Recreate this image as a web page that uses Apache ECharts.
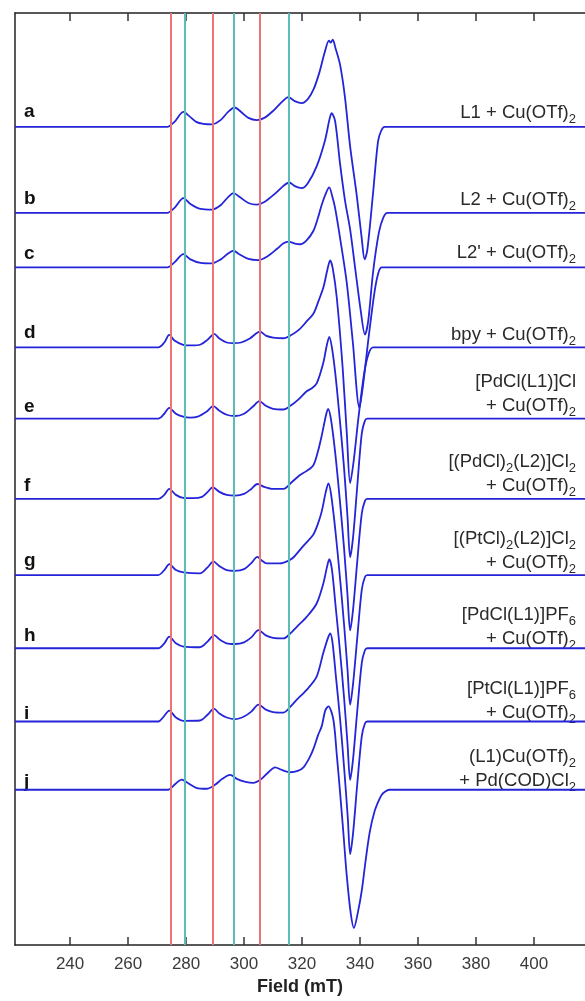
<!DOCTYPE html>
<html>
<head>
<meta charset="utf-8">
<script src="https://cdn.jsdelivr.net/npm/echarts@6/dist/echarts.min.js"></script>
<style>
  html, body { margin: 0; padding: 0; background: #fff; }
  #chart { width: 585px; height: 1001px; }
</style>
</head>
<body>
<div id="chart"></div>
<script>
// field axis (mT)
const fieldMin = 221;
const fieldMax = 417.6;
const fieldTicks = [240, 260, 280, 300, 320, 340, 360, 380, 400];

// hyperfine guide lines (mT)
const redLines = [274.6, 289.3, 305.4];
const tealLines = [279.5, 296.4, 315.4];

// trace letters, baselines (offset units) and right-hand labels
const traceLetters = ["a", "b", "c", "d", "e", "f", "g", "h", "i", "j"];
const traceBaselines = [827, 740, 685, 604, 532, 451, 374, 300, 226, 157];
const traceNames = [
  "L1 + Cu(OTf){s|2}",
  "L2 + Cu(OTf){s|2}",
  "L2' + Cu(OTf){s|2}",
  "bpy + Cu(OTf){s|2}",
  "[PdCl(L1)]Cl\n+ Cu(OTf){s|2}",
  "[(PdCl){s|2}(L2)]Cl{s|2}\n+ Cu(OTf){s|2}",
  "[(PtCl){s|2}(L2)]Cl{s|2}\n+ Cu(OTf){s|2}",
  "[PdCl(L1)]PF{s|6}\n+ Cu(OTf){s|2}",
  "[PtCl(L1)]PF{s|6}\n+ Cu(OTf){s|2}",
  "(L1)Cu(OTf){s|2}\n+ Pd(COD)Cl{s|2}",
];

// spectra: [field mT, signal relative to baseline]
const traceA = [[221,0],[250,0],[273.5,0],[276,5],[279.1,15],[281,11],[283.5,5],[286,3],[289,2.5],[292,7],[294.5,15],[296.7,19.5],[299,15],[301.5,9],[304.4,6.8],[307,9],[310,16],[313,25],[315.3,30],[317.5,26],[319.9,24],[322,28],[324,38],[326,55],[327.8,75],[329.3,87],[329.9,85],[330.6,88],[331.5,80],[333.1,63],[334.8,30],[336.6,-20],[338.9,-70],[340.6,-113],[341.6,-134],[342.5,-125],[344.5,-67],[346.2,-15],[347.3,-4],[348.5,0],[360,0],[417.6,0]];
const traceB = [[221,0],[273.5,0],[276,5],[279.1,15],[281.5,9],[285,4],[288.9,3.3],[292,8],[294.5,16],[296.4,20],[298.5,16],[301.5,10],[304.3,8.3],[307,11],[310.5,19],[313.5,27],[315.6,30.7],[317.5,27],[319.9,25],[322,30],[325,46.7],[327.9,73],[329.5,95],[330.2,100.7],[331.4,93],[333.1,50],[334.8,13],[336.6,-17],[338.5,-60],[340.3,-100],[341.7,-123],[342.8,-110],[344.5,-60],[346.5,-20],[348,-5],[349.5,0],[417.6,0]];
const traceC = [[221,0],[273.5,0],[276,5],[279.1,13.3],[281.5,8],[285,4.5],[288.9,4],[292,8],[294.5,14],[296.3,16.7],[298.5,13],[301.5,8.5],[304.9,7.3],[308,11],[311.5,19],[313.5,24],[315.3,26],[317.5,24],[319.3,23.3],[321.5,27],[323.9,36.7],[325.5,50],[326.8,63.3],[328.4,76],[329.4,80.7],[330.4,72],[331.4,60],[333.1,30],[335.4,-15],[337.5,-75],[339.8,-142],[341,-120],[343,-70],[345,-25],[346.3,-6],[347.5,0],[417.6,0]];
const traceD = [[221,0],[270.4,0],[272.5,5],[274.2,12.7],[276,7],[279,2.7],[282,2],[285,3],[287.5,8],[289.7,13.7],[291.5,9],[294,5],[296.3,4.3],[299,5],[302,9],[305.5,16],[307.5,12],[310,10],[313.6,9.3],[316,12],[319,18],[321.5,26],[323.9,34],[325.7,47],[327.4,61],[328.7,78],[329.7,88],[330.6,80],[332,50],[334,-20],[335.5,-90],[336.6,-137],[337.8,-115],[339.5,-70],[341.5,-25],[343,-6],[344.5,0],[417.6,0]];
const traceE = [[221,0],[270.4,0],[272.5,5],[274.2,11],[276.5,5],[279,2],[281.4,1],[284,2],[287,7],[289.4,12.7],[291.5,8],[294,4],[296.9,2.7],[300,5],[303,12],[305.3,17.7],[307.5,13],[310,10],[313.6,9.3],[316,13],[318.7,19.3],[321.6,27.7],[323.5,31],[325.1,36],[327.3,56],[328.6,75],[329.4,82.7],[330.3,72],[331.5,45],[333,0],[334.5,-50],[335.7,-100],[336.6,-140],[337.6,-120],[339,-70],[340.6,-15],[341.7,-2],[342.5,0],[417.6,0]];
const traceF = [[221,0],[270.4,0],[272.5,4],[274.2,10],[276.5,4],[279,1],[282.5,0.7],[285.5,2],[287.5,7],[289.2,11.7],[291.5,7],[294,4],[296.9,3.3],[300,5],[302.5,10],[304.6,15],[307,12],[310,10],[313.6,10],[316.5,17],[319.3,24],[321.5,28],[323.9,34],[325.5,48],[326.8,64],[328.3,85],[329,91],[330,80],[331.5,45],[333,0],[334.5,-50],[335.7,-98],[336.6,-133],[337.6,-112],[339,-65],[340.6,-15],[341.7,-2],[342.5,0],[417.6,0]];
const traceG = [[221,0],[270.4,0],[272.5,5],[274.2,11],[276.5,5],[279.1,2.7],[284.8,1.7],[287.5,8],[289.4,13.7],[291.5,9],[294,5],[296.9,4.3],[300,6],[302.5,12],[304.6,18.3],[306,15],[307.8,11.7],[312.4,11.7],[315,14],[317,17.7],[320.4,29.3],[323.9,41],[325.5,52],[326.8,64.3],[328.2,84],[329.1,92.7],[330,82],[331.5,45],[333,0],[334.5,-50],[335.7,-96],[336.6,-131],[337.6,-110],[339,-65],[340.6,-15],[341.7,-2],[342.5,0],[417.6,0]];
const traceH = [[221,0],[270.4,0],[272.5,5],[274.2,11.7],[276.5,5],[279.1,1.7],[284.8,1],[287.5,7],[289.7,13.3],[291.5,9],[294,5],[296.9,4.3],[300,6],[302.5,11],[305,18.3],[307.5,13],[310,10.5],[313.6,10],[316,15],[318.2,21.7],[321.6,31.7],[325,45],[327.3,65],[328.6,82],[329.4,90],[330.3,80],[331.5,45],[333,0],[334.5,-50],[335.7,-97],[336.6,-133],[337.6,-112],[339,-65],[340.6,-15],[341.7,-2],[342.5,0],[417.6,0]];
const traceI = [[221,0],[270.4,0],[272.3,5],[274.2,11],[276.5,4],[279.1,0.7],[284.8,1],[287.5,7],[289.6,13],[291.5,8],[294,4],[296.9,2.3],[300,5],[302.5,10],[305,17],[307.5,12],[310,9.5],[313.6,9],[316,15],[318.2,22],[321.6,32],[325,45],[327.3,69],[328.9,84],[329.7,89],[330.5,80],[331.7,45],[333.2,0],[334.6,-50],[335.8,-98],[336.6,-134],[337.6,-113],[339,-65],[340.6,-15],[341.7,-2],[342.5,0],[417.6,0]];
const traceJ = [[221,0],[273.9,0],[276,5],[278.5,10.3],[280.5,7],[283.5,2],[287.1,1],[290,5],[292.5,11],[295.2,15],[297.5,11],[300.5,8],[303.2,7],[306,11],[308.5,18],[310.7,22.7],[313,20],[315.9,17.7],[318.5,19],[320.5,22.7],[322.5,32],[323.9,41],[325.5,55],[326.8,64.3],[328,80],[329.1,84.3],[330.8,71],[332,35],[333.1,-2],[334.3,-45],[335.4,-86],[336.8,-125],[337.9,-139.7],[339.2,-125],[340.6,-102],[342,-70],[343.4,-42],[345,-22],[346.3,-12],[347.5,-5],[348.6,-2],[350,0],[417.6,0]];

const traces = [traceA, traceB, traceC, traceD, traceE, traceF, traceG, traceH, traceI, traceJ];

// label placement (px), one per trace
const letterY = [113, 200, 255, 334, 408, 487, 562, 637, 715, 783];
const nameY = [113, 200, 253, 335, 394, 474, 551, 627, 701, 769];

const chart = echarts.init(document.getElementById("chart"));

const FONT = "'Liberation Sans', Arial, sans-serif";
const BLUE = "#2424d8";

const traceSeries = traces.map((pts, idx) => ({
  name: traceLetters[idx],
  type: "line",
  showSymbol: false,
  smooth: 0.3,
  z: 3,
  lineStyle: { color: BLUE, width: 1.8 },
  data: pts.map((p) => [p[0], p[1] + traceBaselines[idx]]),
}));

const guideSeries = {
  type: "line",
  data: [],
  z: 1,
  markLine: {
    silent: true,
    symbol: "none",
    label: { show: false },
    animation: false,
    data: [
      ...redLines.map((v) => ({ xAxis: v, lineStyle: { color: "#ec7474", width: 2, type: "solid" } })),
      ...tealLines.map((v) => ({ xAxis: v, lineStyle: { color: "#5cbdb6", width: 2, type: "solid" } })),
    ],
  },
};

const graphics = [];
traceLetters.forEach((letter, idx) => {
  graphics.push({
    type: "text",
    left: 24,
    top: letterY[idx] - 11,
    style: {
      text: letter,
      fontFamily: FONT,
      fontSize: 19,
      fontWeight: "bold",
      fill: "#111",
    },
  });
  graphics.push({
    type: "text",
    x: 576,
    y: nameY[idx],
    style: {
      text: traceNames[idx],
      fontFamily: FONT,
      fontSize: 18.5,
      fill: "#2a2a2a",
      align: "right",
      verticalAlign: "middle",
      lineHeight: 24,
      rich: {
        s: { fontSize: 13, padding: [12, 0, 0, 0], lineHeight: 24, fill: "#2a2a2a", fontFamily: FONT },
      },
    },
  });
});

const axisCommon = {
  type: "value",
  min: fieldMin,
  max: fieldMax,
  axisLine: { show: true, lineStyle: { color: "#222", width: 1.5 } },
  axisTick: { show: true, inside: true, length: 8, customValues: fieldTicks, lineStyle: { color: "#333", width: 1.5 } },
  splitLine: { show: false },
};

const option = {
  animation: false,
  backgroundColor: "#fff",
  grid: { left: 15, right: 0, top: 13, bottom: 46 },
  xAxis: [
    {
      ...axisCommon,
      position: "bottom",
      name: "Field (mT)",
      nameLocation: "middle",
      nameGap: 27,
      nameTextStyle: { fontFamily: FONT, fontSize: 18, fontWeight: "bold", color: "#222" },
      axisLabel: { customValues: fieldTicks, fontFamily: FONT, fontSize: 17, color: "#3a3a3a", margin: 11 },
    },
    {
      ...axisCommon,
      position: "top",
      axisLabel: { show: false },
    },
  ],
  yAxis: {
    type: "value",
    min: 0,
    max: 942,
    axisLine: { show: true, lineStyle: { color: "#222", width: 1.5 } },
    axisTick: { show: false },
    axisLabel: { show: false },
    splitLine: { show: false },
  },
  series: [guideSeries, ...traceSeries],
  graphic: graphics,
};

chart.setOption(option);
</script>
</body>
</html>
